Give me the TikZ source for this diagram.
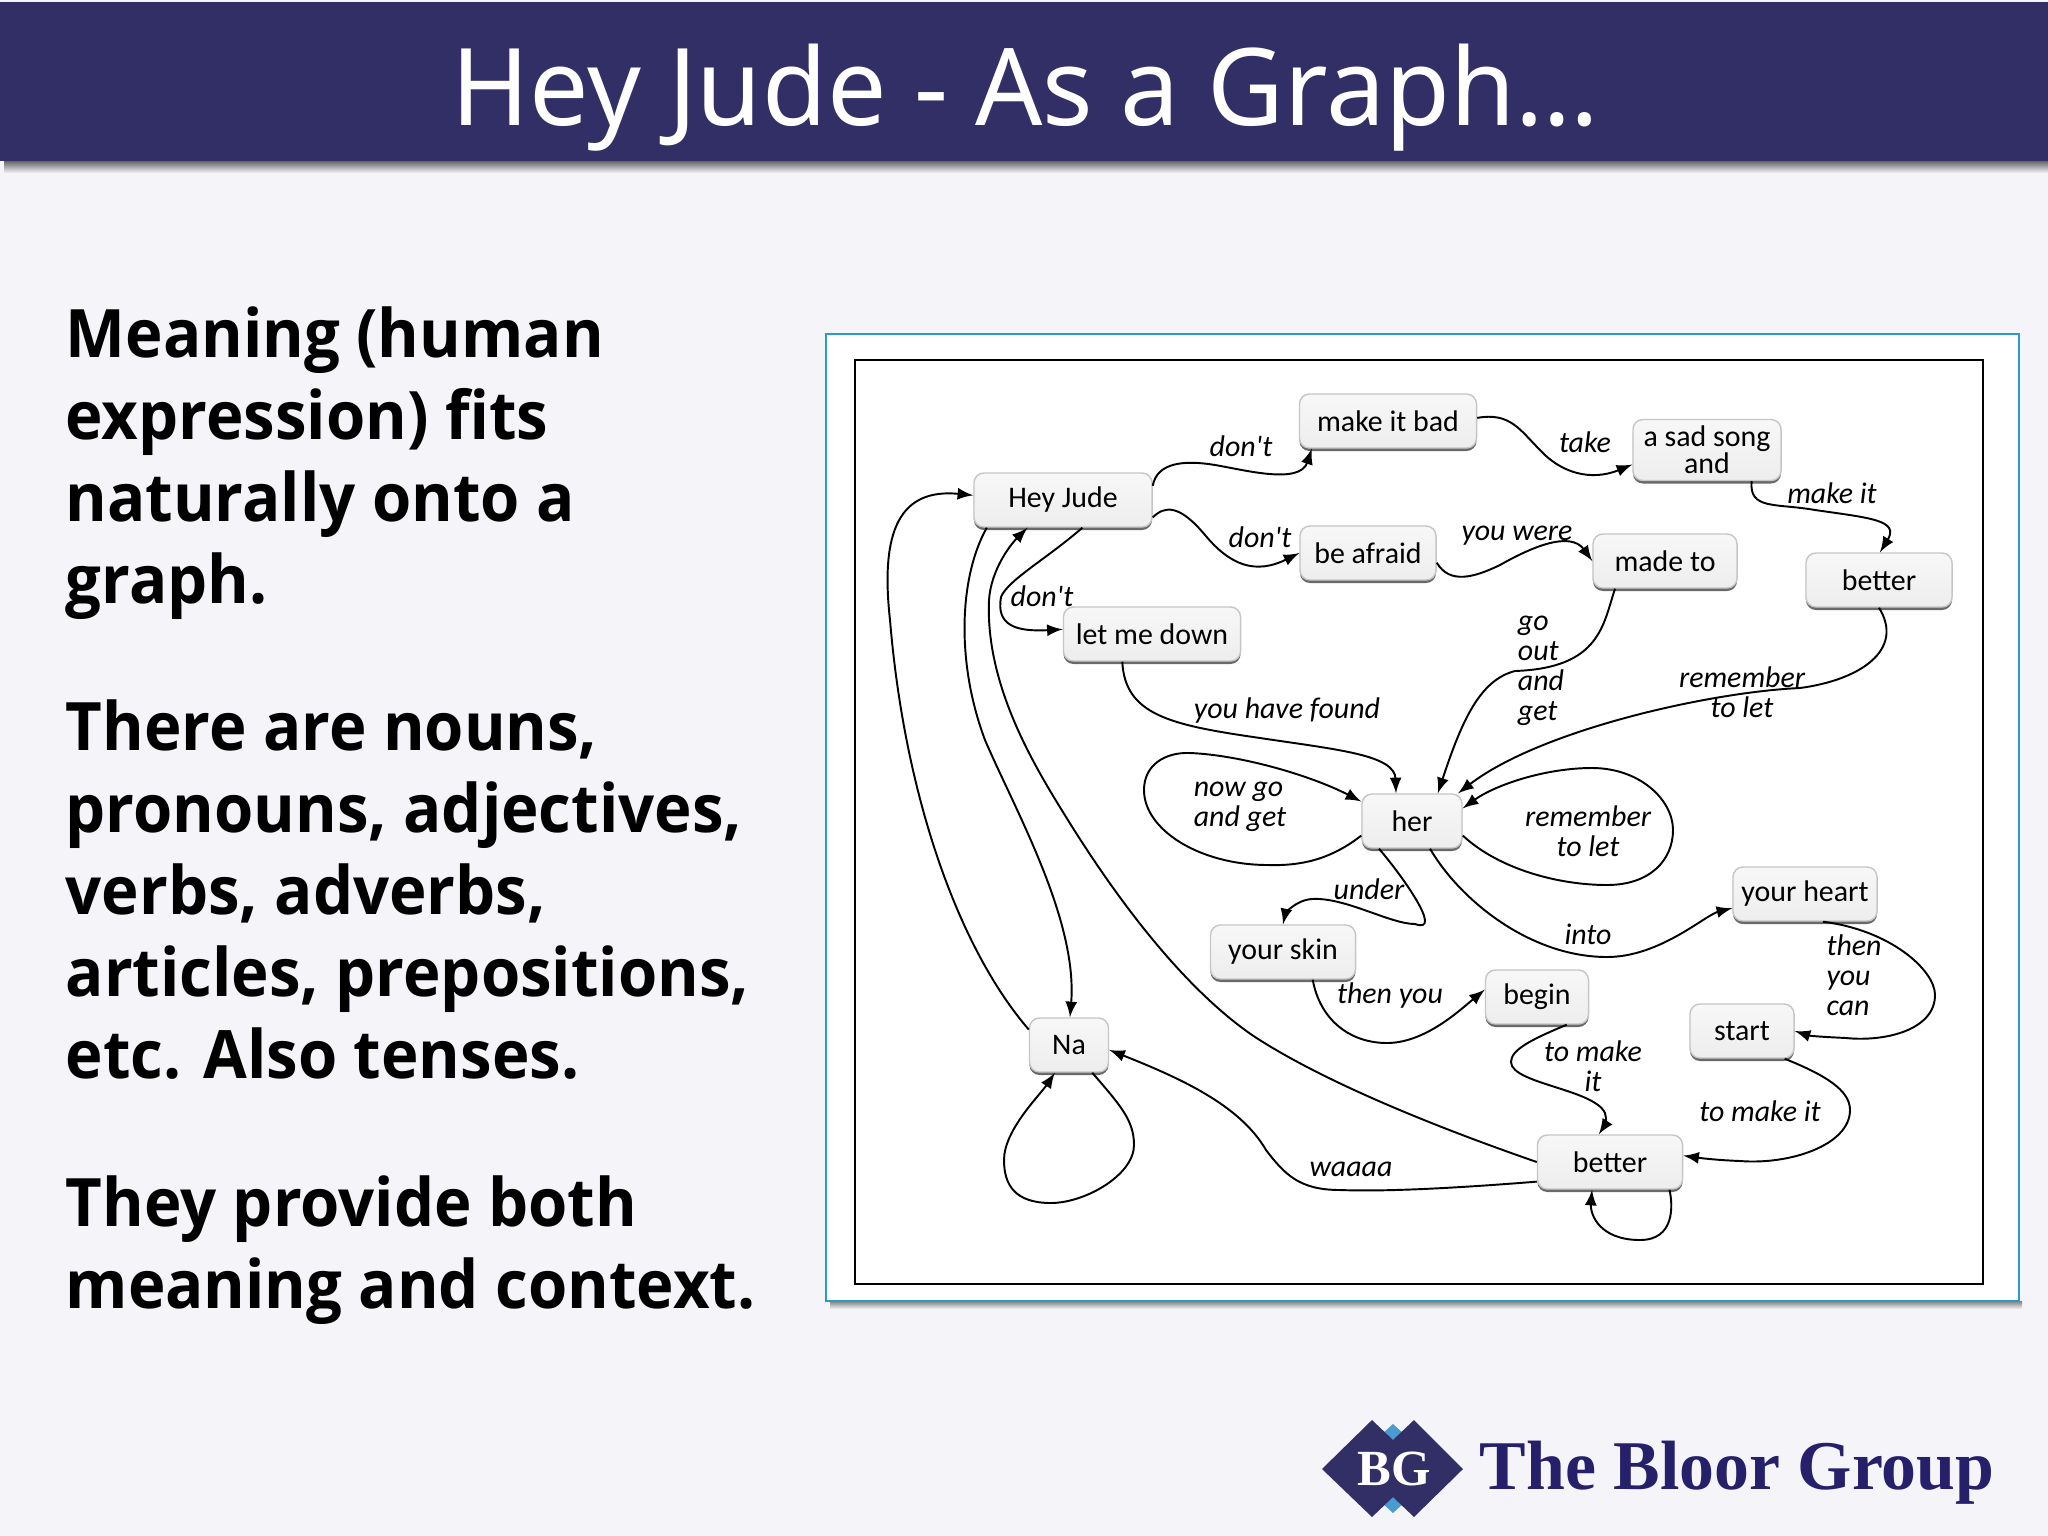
\documentclass[tikz,border=0pt]{standalone}
\usepackage{fontspec}
\usetikzlibrary{shadows}
\setmainfont{Noto Sans}
\newfontfamily\bodyfont{Open Sans}
\newfontfamily\wordfont{Carlito}
\newfontfamily\logofont{Liberation Serif}
\definecolor{bloor}{HTML}{322F66}
\definecolor{bloorname}{HTML}{26206A}
\definecolor{bloorblue}{HTML}{4A9BD0}
\definecolor{slidebg}{HTML}{F5F4F9}
\definecolor{framecol}{HTML}{2A9BC9}
\tikzset{
  wordbox/.style={draw=gray!45, top color=gray!6, bottom color=gray!14, rounded corners=0.1cm, minimum height=0.54cm,
    inner sep=0pt, font=\wordfont\fontsize{8.5}{7.6}\selectfont, align=center,
    drop shadow={shadow xshift=0pt, shadow yshift=-0.03cm, fill=gray!70!black, opacity=0.9}},
  wordlabel/.style={inner sep=0pt, font=\wordfont\itshape\fontsize{8.5}{8.5}\selectfont},
  edge/.style={draw=black, line width=0.55pt, -latex},
  bodytext/.style={anchor=north west, inner sep=0pt, align=left,
    font=\bodyfont\bfseries\fontsize{19}{23.3}\selectfont, xscale=0.95, transform shape}
}
\begin{document}
\begin{tikzpicture}[x=0.01cm, y=-0.01cm]
\useasboundingbox (0,0) rectangle (2048,1536);
\fill[slidebg] (0,0) rectangle (2048,1536);

% header
\shade[top color=black!60, bottom color=slidebg] (4,161) rectangle (2048,173);
\fill[bloor] (0,2) rectangle (2048,161);
\node[text=white, inner sep=0pt, font=\fontsize{30.5}{36}\selectfont, xscale=0.984, transform shape] (title) at (1025,98) {Hey Jude - As a Graph…};

% left text
\node[bodytext] (meaning) at (65,306) {Meaning (human\\expression) fits\\naturally onto a\\graph.};
\node[bodytext] (nouns) at (65,699) {There are nouns,\\pronouns, adjectives,\\verbs, adverbs,\\articles, prepositions,\\etc. Also tenses.};
\node[bodytext] (context) at (65,1175) {They provide both\\meaning and context.};

% frame
\shade[top color=black!50, bottom color=slidebg] (830,1301) rectangle (2022,1309);
\draw[framecol, fill=white, line width=0.6pt] (826,334) rectangle (2019,1301);
\draw[black, line width=0.6pt] (855,360) rectangle (1983,1284);

% words
\node[wordbox, minimum width=1.78cm] (heyjude) at (1063,500) {Hey Jude};
\node[wordbox, minimum width=1.77cm] (makeitbad) at (1388,421) {make it bad};
\node[wordbox, minimum width=1.48cm, minimum height=0.61cm] (sadsong) at (1707,450) {a sad song\\and};
\node[wordbox, minimum width=1.36cm] (beafraid) at (1368,553) {be afraid};
\node[wordbox, minimum width=1.44cm] (madeto) at (1665,561) {made to};
\node[wordbox, minimum width=1.46cm] (betterup) at (1879,580) {better};
\node[wordbox, minimum width=1.77cm] (letmedown) at (1152,634) {let me down};
\node[wordbox, minimum width=1.00cm] (her) at (1412,821) {her};
\node[wordbox, minimum width=1.44cm] (yourheart) at (1805,894) {your heart};
\node[wordbox, minimum width=1.45cm] (yourskin) at (1283,952) {your skin};
\node[wordbox, minimum width=1.03cm] (begin) at (1537,997) {begin};
\node[wordbox, minimum width=1.04cm] (start) at (1742,1031) {start};
\node[wordbox, minimum width=0.79cm] (na) at (1069,1045) {Na};
\node[wordbox, minimum width=1.45cm] (betterlow) at (1610,1162) {better};

% connectors
\draw[edge] (heyjude.9) .. controls (1157,462) and (1185,460) .. (1215,465) .. controls (1245,470) and (1300,485) .. (makeitbad.200);
\draw[edge] (makeitbad.2) .. controls (1510,412) and (1520,430) .. (1540,450) .. controls (1560,472) and (1590,482) .. (sadsong.191);
\draw[edge] (sadsong.325) .. controls (1749,510) and (1775,503) .. (1815,510) .. controls (1870,518) and (1900,520) .. (betterup.88);
\draw[edge] (heyjude.349) .. controls (1165,505) and (1180,505) .. (1205,535) .. controls (1230,565) and (1255,575) .. (beafraid.west);
\draw[edge] (beafraid.352) .. controls (1450,585) and (1475,577) .. (1500,565) .. controls (1530,548) and (1570,530) .. (madeto.west);
\draw[edge] (heyjude.305) .. controls (1045,560) and (1008,580) .. (1001,597) .. controls (996,625) and (1015,632) .. (letmedown.177);
\draw[edge] (letmedown.223) .. controls (1125,715) and (1170,725) .. (1260,738) .. controls (1340,750) and (1395,755) .. (her.120);
\draw[edge] (her.196) .. controls (1330,860) and (1300,866) .. (1268,865) .. controls (1200,865) and (1144,830) .. (1144,790) .. controls (1144,765) and (1165,752) .. (1190,753) .. controls (1240,755) and (1310,775) .. (her.159);
\draw[edge] (madeto.209) .. controls (1603,625) and (1600,668) .. (1515,671) .. controls (1480,680) and (1462,720) .. (her.47);
\draw[edge] (betterup.south) .. controls (1905,650) and (1860,680) .. (1800,688) .. controls (1710,692) and (1540,730) .. (her.31);
\draw[edge] (her.344) .. controls (1500,870) and (1560,885) .. (1607,885) .. controls (1650,885) and (1673,860) .. (1673,830) .. controls (1673,800) and (1640,768) .. (1592,768) .. controls (1545,768) and (1495,785) .. (her.14);
\draw[edge] (her.220) .. controls (1400,873) and (1445,935) .. (1415,924) .. controls (1390,924) and (1345,897) .. (1312,899) .. controls (1295,900) and (1285,915) .. (yourskin.north);
\draw[edge] (her.303) .. controls (1460,900) and (1530,957) .. (1607,957) .. controls (1660,957) and (1705,915) .. (yourheart.191);
\draw[edge] (yourheart.303) .. controls (1890,930) and (1935,970) .. (1935,995) .. controls (1935,1030) and (1885,1042) .. (1846,1038) .. controls (1825,1037) and (1810,1036) .. (start.east);
\draw[edge] (start.327) .. controls (1825,1075) and (1850,1090) .. (1850,1110) .. controls (1850,1145) and (1790,1165) .. (1740,1161) .. controls (1715,1160) and (1700,1158) .. (betterlow.5);
\draw[edge] (begin.317) .. controls (1530,1040) and (1511,1050) .. (1511,1062) .. controls (1511,1085) and (1606,1090) .. (1606,1118) .. controls (1606,1125) and (1603,1128) .. (betterlow.112);
\draw[edge] (yourskin.317) .. controls (1320,1020) and (1350,1043) .. (1387,1043) .. controls (1425,1043) and (1460,1010) .. (begin.172);
\draw[edge] (betterlow.195) .. controls (1470,1187) and (1390,1192) .. (1340,1190) .. controls (1300,1190) and (1285,1175) .. (1266,1150) .. controls (1240,1105) and (1180,1078) .. (na.353);
\draw[edge] (betterlow.west) .. controls (1430,1125) and (1320,1080) .. (1252,1035) .. controls (1180,985) and (1115,895) .. (1071,825) .. controls (1040,775) and (985,690) .. (989,600) .. controls (991,570) and (1010,545) .. (heyjude.218);
\draw[edge] (heyjude.200) .. controls (960,575) and (955,660) .. (985,740) .. controls (1015,810) and (1078,920) .. (na.88);
\draw[edge] (na.159) .. controls (960,950) and (905,800) .. (890,620) .. controls (880,530) and (900,488) .. (heyjude.177);
\draw[edge] (na.310) .. controls (1120,1105) and (1134,1120) .. (1134,1145) .. controls (1134,1175) and (1085,1203) .. (1051,1203) .. controls (1015,1203) and (1004,1185) .. (1004,1160) .. controls (1004,1130) and (1040,1095) .. (na.243);
\draw[edge] (betterlow.335) .. controls (1673,1205) and (1675,1240) .. (1640,1240) .. controls (1600,1240) and (1590,1215) .. (betterlow.237);

% labels
\node[wordlabel] (dont1) at (1241,446) {don't};
\node[wordlabel] (take) at (1585,442) {take};
\node[wordlabel] (makeit) at (1832,493) {make it};
\node[wordlabel] (dont2) at (1260,537) {don't};
\node[wordlabel] (youwere) at (1517,536) {you were};
\node[wordlabel] (dont3) at (1042,596) {don't};
\node[wordlabel] (youhavefound) at (1287,711) {you have found};
\node[wordlabel, align=left] (goout) at (1541,671) {go\\out\\and\\get};
\node[wordlabel, align=center] (remembertop) at (1742,692) {remember\\to let};
\node[wordlabel, align=left] (nowgo) at (1240,807) {now go\\and get};
\node[wordlabel, align=center] (rememberher) at (1588,831) {remember\\to let};
\node[wordlabel] (under) at (1369,889) {under};
\node[wordlabel] (into) at (1588,934) {into};
\node[wordlabel, align=left] (thenyoucan) at (1854,975) {then\\you\\can};
\node[wordlabel] (thenyou) at (1390,996) {then you};
\node[wordlabel, align=center] (tomake) at (1593,1066) {to make\\it};
\node[wordlabel] (tomakeit) at (1760,1111) {to make it};
\node[wordlabel] (waaaa) at (1351,1169) {waaaa};

% logo
\fill[bloorblue] (1393,1424) -- (1404,1434) -- (1393,1444) -- (1382,1434) -- cycle;
\fill[bloorblue] (1393,1513) -- (1404,1503) -- (1393,1493) -- (1382,1503) -- cycle;
\fill[bloor] (1322,1469) -- (1372,1420) -- (1393,1440) -- (1414,1420) -- (1463,1469) -- (1414,1517) -- (1393,1497) -- (1372,1517) -- cycle;
\node[text=white, inner sep=0pt, font=\logofont\bfseries\fontsize{14.4}{15}\selectfont] (bg) at (1394,1469) {BG};
\node[text=bloorname, anchor=base west, inner sep=0pt, font=\logofont\bfseries\fontsize{19.85}{24}\selectfont] (thebloorgroup) at (1479,1489) {The Bloor Group};
\end{tikzpicture}
\end{document}
